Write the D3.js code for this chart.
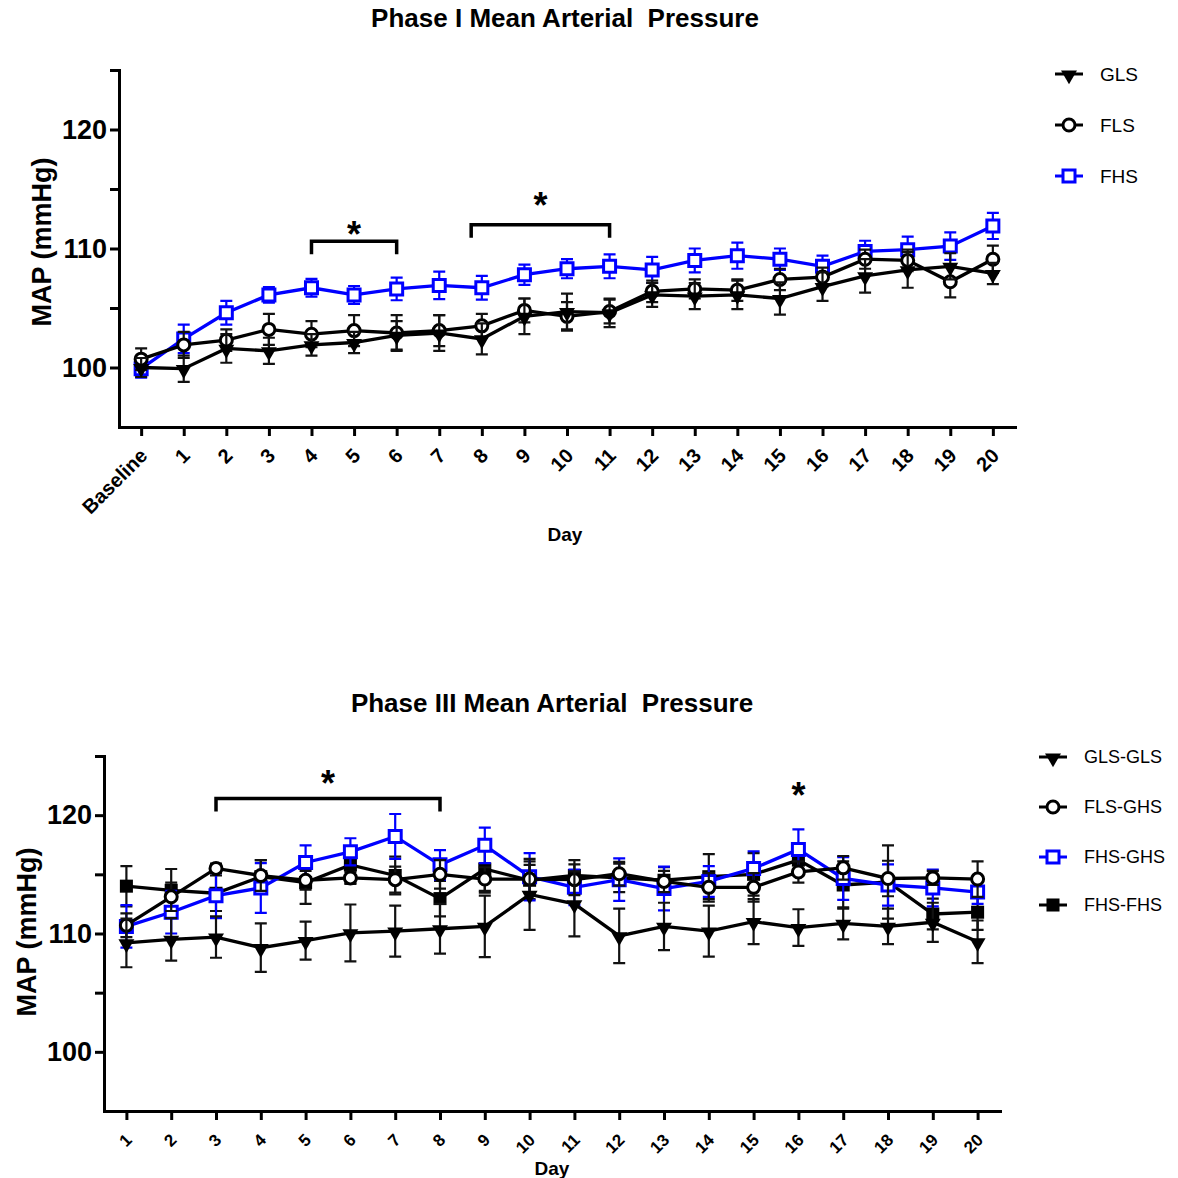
<!DOCTYPE html>
<html><head><meta charset="utf-8">
<script src="https://cdn.jsdelivr.net/npm/d3@7"></script>
<style>
body{margin:0;background:#fff}
text{font-family:Arial,"Liberation Sans",sans-serif}
</style>
</head><body>
<svg id="c" width="1178" height="1178"></svg>
<script>
// ---------- Phase I data ----------
const p1Days = ["Baseline","1","2","3","4","5","6","7","8","9","10","11","12","13","14","15","16","17","18","19","20"];
const p1GLS    = [100.0, 99.9, 101.6, 101.4, 101.9, 102.1, 102.7, 102.9, 102.4, 104.3, 104.7, 104.6, 106.1, 106.0, 106.1, 105.8, 106.8, 107.7, 108.2, 108.5, 107.9];
const p1GLSerr = [0.8, 1.1, 1.2, 1.1, 0.9, 0.9, 1.2, 1.5, 1.3, 1.5, 1.5, 1.2, 1.0, 1.1, 1.2, 1.35, 1.2, 1.4, 1.5, 1.1, 0.9];
const p1FLS    = [100.7, 101.9, 102.3, 103.2, 102.8, 103.1, 102.9, 103.1, 103.5, 104.8, 104.3, 104.7, 106.4, 106.6, 106.5, 107.4, 107.6, 109.1, 109.0, 107.2, 109.1];
const p1FLSerr = [0.9, 1.1, 0.9, 1.3, 1.1, 1.3, 1.5, 1.3, 1.0, 1.0, 1.2, 1.0, 0.9, 0.8, 0.9, 0.9, 0.8, 0.8, 0.9, 1.3, 1.15];
const p1FHS    = [99.9, 102.4, 104.6, 106.1, 106.7, 106.1, 106.6, 106.9, 106.7, 107.8, 108.3, 108.5, 108.2, 109.0, 109.4, 109.1, 108.5, 109.75, 109.9, 110.2, 111.9];
const p1FHSerr = [0.75, 1.2, 1.0, 0.65, 0.75, 0.75, 0.95, 1.15, 1.0, 0.85, 0.8, 1.0, 1.1, 1.0, 1.1, 0.9, 0.9, 0.9, 1.1, 1.15, 1.1];

// ---------- Phase III data ----------
const p3Days = ["1","2","3","4","5","6","7","8","9","10","11","12","13","14","15","16","17","18","19","20"];
const p3GLSGLS    = [109.2, 109.5, 109.7, 108.8, 109.4, 110.05, 110.2, 110.4, 110.6, 113.3, 112.5, 109.8, 110.6, 110.2, 111.0, 110.5, 110.85, 110.6, 110.95, 109.3];
const p3GLSGLSerr = [2.05, 1.8, 1.75, 2.05, 1.6, 2.4, 2.15, 2.1, 2.6, 3.0, 2.75, 2.3, 2.0, 2.15, 1.9, 1.55, 1.35, 1.5, 1.65, 1.8];
const p3FLSGHS    = [110.7, 113.1, 115.5, 114.9, 114.5, 114.7, 114.55, 115.0, 114.6, 114.6, 114.55, 115.05, 114.4, 113.9, 113.9, 115.2, 115.55, 114.65, 114.7, 114.6];
const p3FLSGHSerr = [1.0, 1.2, 0.4, 1.3, 0.8, 0.5, 1.1, 1.2, 1.0, 1.2, 1.3, 1.0, 0.9, 1.2, 1.2, 0.9, 1.0, 1.5, 0.6, 1.5];
const p3FHSGHS    = [110.6, 111.8, 113.2, 113.85, 116.0, 116.9, 118.2, 115.8, 117.45, 114.8, 113.9, 114.55, 113.8, 114.4, 115.5, 117.1, 114.65, 114.1, 113.85, 113.5];
const p3FHSGHSerr = [1.8, 1.8, 1.9, 2.1, 1.45, 1.15, 1.9, 1.25, 1.5, 2.0, 1.5, 1.8, 1.85, 1.3, 1.45, 1.7, 1.8, 1.75, 1.55, 1.0];
const p3FHSFHS    = [114.0, 113.65, 113.4, 114.8, 114.3, 115.8, 114.9, 112.95, 115.45, 114.5, 114.9, 114.7, 114.5, 114.8, 115.0, 116.2, 114.1, 114.35, 111.65, 111.8];
const p3FHSFHSerr = [1.7, 1.8, 1.5, 1.4, 1.8, 1.55, 1.6, 1.5, 2.0, 1.6, 1.3, 1.2, 1.1, 1.9, 1.8, 1.3, 2.0, 3.1, 1.3, 1.5];

// significance annotations: [fromIndex, toIndex, barValue, starValue]
const p1Brackets = [[4, 6, 110.6, 111.9], [7.75, 11, 112.0, 114.3]];
const p3Brackets = [[2, 7, 121.4, 123.4]];
const p3Stars = [[15, 122.4]];

const yMajor = [100, 110, 120];
const yMinor = [105, 115, 125];

const svg = d3.select("#c");
const BLUE = "#0000ff";

function marker(g, type, color, x, y) {
  if (type === "tri") {
    g.append("path").attr("d", d3.symbol(d3.symbolTriangle, 110)())
      .attr("transform", `translate(${x},${y + 1}) rotate(180)`).attr("fill", "#000");
  } else if (type === "circle") {
    g.append("circle").attr("cx", x).attr("cy", y).attr("r", 6)
      .attr("fill", "#fff").attr("stroke", "#000").attr("stroke-width", 3);
  } else if (type === "osq") {
    g.append("path").attr("d", d3.symbol(d3.symbolSquare, 144)())
      .attr("transform", `translate(${x},${y})`).attr("fill", "#fff").attr("stroke", color).attr("stroke-width", 3);
  } else if (type === "fsq") {
    g.append("path").attr("d", d3.symbol(d3.symbolSquare, 170)())
      .attr("transform", `translate(${x},${y})`).attr("fill", "#000");
  }
}

function panel(cfg) {
  const x = d3.scalePoint().domain(cfg.days).range([cfg.left, cfg.right]).padding(cfg.pad);
  const y = d3.scaleLinear().domain([95, 125]).range([cfg.bottom, cfg.top]);
  const g = svg.append("g");

  // y axis
  const ya = g.append("g").attr("transform", `translate(${cfg.left},0)`)
    .call(d3.axisLeft(y).tickValues(yMajor).tickSize(9).tickSizeOuter(0).tickPadding(3));
  g.append("g").attr("transform", `translate(${cfg.left},0)`)
    .call(d3.axisLeft(y).tickValues(yMinor).tickSize(9).tickSizeOuter(0).tickFormat(""))
    .select(".domain").remove();
  ya.selectAll("text").attr("font-size", 27).attr("font-weight", "bold").attr("font-family", "Arial, Liberation Sans, sans-serif").attr("fill", "#000");

  // x axis
  const xa = g.append("g").attr("transform", `translate(0,${cfg.bottom})`)
    .call(d3.axisBottom(x).tickSize(9).tickSizeOuter(0));
  xa.selectAll("text").attr("x", 0).attr("y", 0).attr("dy", 0)
    .attr("text-anchor", "end")
    .attr("transform", `translate(${cfg.lblDx},${cfg.lblDy}) rotate(-45)`)
    .attr("font-size", cfg.xFont).attr("font-weight", "bold").attr("font-family", "Arial, Liberation Sans, sans-serif").attr("fill", "#000");

  svg.selectAll(".domain").attr("stroke-width", 3).attr("stroke", "#000").attr("stroke-linecap", "square");
  svg.selectAll(".tick line").attr("stroke-width", 3).attr("stroke", "#000");

  // titles
  g.append("text").attr("x", cfg.titleX).attr("y", cfg.titleY).attr("text-anchor", "middle")
    .attr("font-size", 26).attr("font-weight", "bold").style("white-space", "pre").text(cfg.title);
  g.append("text").attr("transform", `translate(${cfg.ylabX},${cfg.ylabY}) rotate(-90)`).attr("text-anchor", "middle")
    .attr("font-size", 27).attr("font-weight", "bold").text("MAP (mmHg)");
  g.append("text").attr("x", cfg.dayX).attr("y", cfg.dayY).attr("text-anchor", "middle")
    .attr("font-size", 19).attr("font-weight", "bold").text("Day");

  // brackets
  const step = x.step();
  const xi = i => x(cfg.days[Math.floor(i)]) + (i - Math.floor(i)) * step;
  cfg.brackets.forEach(b => {
    const x0 = xi(b[0]), x1 = xi(b[1]), yb = y(b[2]);
    g.append("path").attr("d", `M${x0},${yb + 13}V${yb}H${x1}V${yb + 13}`)
      .attr("fill", "none").attr("stroke", "#000").attr("stroke-width", 3.5);
    g.append("text").attr("x", (x0 + x1) / 2).attr("y", y(b[3]) + 21).attr("text-anchor", "middle")
      .attr("font-size", 36).attr("font-weight", "bold").text("*");
  });
  (cfg.stars || []).forEach(s => {
    g.append("text").attr("x", xi(s[0])).attr("y", y(s[1]) + 21).attr("text-anchor", "middle")
      .attr("font-size", 36).attr("font-weight", "bold").text("*");
  });

  // series
  cfg.series.forEach(s => {
    const sg = g.append("g");
    const col = s.color;
    const ecol = s.color === BLUE ? BLUE : "#111";
    s.values.forEach((v, i) => {
      const cx = x(cfg.days[i]), e = s.err[i];
      sg.append("path").attr("d", `M${cx},${y(v - e)}V${y(v + e)}M${cx - 6},${y(v - e)}H${cx + 6}M${cx - 6},${y(v + e)}H${cx + 6}`)
        .attr("stroke", ecol).attr("stroke-width", 2.2).attr("fill", "none");
    });
    sg.append("path").datum(s.values)
      .attr("d", d3.line().x((d, i) => x(cfg.days[i])).y(d => y(d)))
      .attr("fill", "none").attr("stroke", col).attr("stroke-width", 3.3);
    s.values.forEach((v, i) => marker(sg, s.type, col, x(cfg.days[i]), y(v)));
  });

  // legend
  cfg.legend.forEach((s, k) => {
    const ly = cfg.legY[k];
    g.append("line").attr("x1", cfg.legX).attr("x2", cfg.legX + 28).attr("y1", ly).attr("y2", ly)
      .attr("stroke", s.color).attr("stroke-width", 3);
    marker(g, s.type, s.color, cfg.legX + 14, ly);
    g.append("text").attr("x", cfg.legX + 45).attr("y", ly).attr("dy", "0.36em")
      .attr("font-size", cfg.legFont).text(s.name);
  });
}

const s1 = [
  {name: "FHS", values: p1FHS, err: p1FHSerr, color: BLUE, type: "osq"},
  {name: "FLS", values: p1FLS, err: p1FLSerr, color: "#000", type: "circle"},
  {name: "GLS", values: p1GLS, err: p1GLSerr, color: "#000", type: "tri"}
];
panel({
  days: p1Days, left: 119, right: 1015, pad: 0.52, top: 70, bottom: 427,
  lblDx: 7, lblDy: 30, xFont: 20,
  title: "Phase I Mean Arterial  Pressure", titleX: 565, titleY: 27,
  ylabX: 51, ylabY: 242, dayX: 565, dayY: 541,
  brackets: p1Brackets,
  series: s1,
  legend: [s1[2], s1[1], s1[0]], legX: 1055, legY: [74, 125, 176], legFont: 19
});

const s3 = [
  {name: "FHS-FHS", values: p3FHSFHS, err: p3FHSFHSerr, color: "#000", type: "fsq"},
  {name: "FHS-GHS", values: p3FHSGHS, err: p3FHSGHSerr, color: BLUE, type: "osq"},
  {name: "FLS-GHS", values: p3FLSGHS, err: p3FLSGHSerr, color: "#000", type: "circle"},
  {name: "GLS-GLS", values: p3GLSGLS, err: p3GLSGLSerr, color: "#000", type: "tri"}
];
panel({
  days: p3Days, left: 104, right: 1000, pad: 0.5, top: 756, bottom: 1111,
  lblDx: 6, lblDy: 30, xFont: 17,
  title: "Phase III Mean Arterial  Pressure", titleX: 552, titleY: 712,
  ylabX: 36, ylabY: 932, dayX: 552, dayY: 1175,
  brackets: p3Brackets, stars: p3Stars,
  series: s3,
  legend: [s3[3], s3[2], s3[1], s3[0]], legX: 1039, legY: [757, 807, 857, 905], legFont: 18
});
</script>
</body></html>
